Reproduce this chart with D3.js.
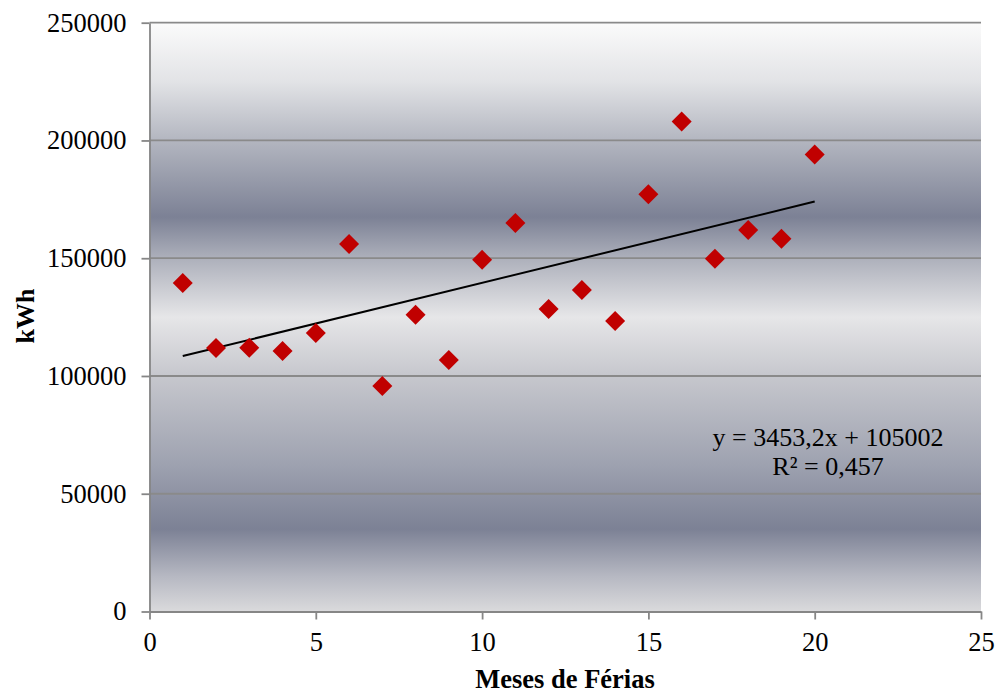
<!DOCTYPE html>
<html>
<head>
<meta charset="utf-8">
<script src="https://cdn.jsdelivr.net/npm/d3@7"></script>
<style>
  html, body { margin: 0; padding: 0; background: #ffffff; }
  svg { display: block; }
  text { font-family: "Liberation Serif", "Times New Roman", serif; fill: #000; }
</style>
</head>
<body>
<svg id="chart" width="1005" height="697"></svg>
<script>
// Months of vacation vs. energy consumption
const months = [1, 2, 3, 4, 5, 6, 7, 8, 9, 10, 11, 12, 13, 14, 15, 16, 17, 18, 19, 20];
const kwh = [139500, 111900, 112000, 110600, 118200, 156000, 95700, 126000, 106800, 149300,
             165000, 128400, 136500, 123300, 177200, 208000, 149800, 162000, 158300, 194000];

// Linear trend as stated on the chart
const trendSlope = 3453.2;
const trendIntercept = 105002;
const trendLabel = "y = 3453,2x + 105002";
const r2Label = "R² = 0,457";

const xTicks = [0, 5, 10, 15, 20, 25];
const yTicks = [0, 50000, 100000, 150000, 200000, 250000];

const xTitle = "Meses de Férias";
const yTitle = "kWh";

const svg = d3.select("#chart");
const plot = { left: 149.5, right: 981, top: 22.7, bottom: 611.5 };

const x = d3.scaleLinear().domain([0, 25]).range([plot.left, plot.right]);
const y = d3.scaleLinear().domain([0, 250000]).range([plot.bottom, plot.top]);

// Banded metallic background of the plot area
const defs = svg.append("defs");
const grad = defs.append("linearGradient")
  .attr("id", "plotBg").attr("x1", 0).attr("y1", 0).attr("x2", 0).attr("y2", 1);
[
  [0.00, "#fbfbfb"],
  [0.10, "#e2e3e6"],
  [0.20, "#b3b6c0"],
  [0.33, "#7c8195"],
  [0.40, "#adb0bb"],
  [0.50, "#e6e6e8"],
  [0.60, "#c6c7cd"],
  [0.75, "#9ea2b0"],
  [0.86, "#7c8195"],
  [0.94, "#b6b8c2"],
  [1.00, "#dadadc"]
].forEach(([o, c]) => grad.append("stop").attr("offset", o).attr("stop-color", c));

svg.append("rect")
  .attr("x", plot.left).attr("y", plot.top)
  .attr("width", plot.right - plot.left).attr("height", plot.bottom - plot.top)
  .attr("fill", "url(#plotBg)");

// Horizontal gridlines
svg.append("g")
  .selectAll("line")
  .data(yTicks.filter(d => d > 0))
  .join("line")
  .attr("x1", plot.left).attr("x2", plot.right)
  .attr("y1", d => y(d)).attr("y2", d => y(d))
  .attr("stroke", "#8a8a8a").attr("stroke-width", 1.8);

// Axes
const yAxis = svg.append("g")
  .attr("transform", `translate(${plot.left},0)`)
  .call(d3.axisLeft(y).tickValues(yTicks).tickFormat(d3.format("d")).tickSizeOuter(0).tickSizeInner(8).tickPadding(15));
const xAxis = svg.append("g")
  .attr("transform", `translate(0,${plot.bottom})`)
  .call(d3.axisBottom(x).tickValues(xTicks).tickFormat(d3.format("d")).tickSizeOuter(0).tickSizeInner(8).tickPadding(13));

[yAxis, xAxis].forEach(g => {
  g.select(".domain").attr("stroke", "#868686").attr("stroke-width", 1.8);
  g.selectAll(".tick line").attr("stroke", "#868686").attr("stroke-width", 1.8);
  g.selectAll(".tick text")
    .style("font-family", '"Liberation Serif", "Times New Roman", serif')
    .style("font-size", "26.5px").attr("fill", "#000");
});

// Trendline across the data range
const xExtent = d3.extent(months);
svg.append("line")
  .attr("x1", x(xExtent[0])).attr("y1", y(trendSlope * xExtent[0] + trendIntercept))
  .attr("x2", x(xExtent[1])).attr("y2", y(trendSlope * xExtent[1] + trendIntercept))
  .attr("stroke", "#000").attr("stroke-width", 2);

// Diamond markers
const diamond = d3.symbol().type(d3.symbolSquare).size(200);
svg.append("g")
  .selectAll("path")
  .data(months.map((m, i) => [m, kwh[i]]))
  .join("path")
  .attr("d", diamond)
  .attr("transform", d => `translate(${x(d[0])},${y(d[1])}) rotate(45)`)
  .attr("fill", "#c00000");

// Trend equation, two lines
svg.append("text")
  .attr("x", 828).attr("y", 446)
  .attr("text-anchor", "middle")
  .style("font-size", "26px")
  .text(trendLabel);
svg.append("text")
  .attr("x", 828).attr("y", 474.5)
  .attr("text-anchor", "middle")
  .style("font-size", "26px")
  .text(r2Label);

// Axis titles
svg.append("text")
  .attr("x", 565).attr("y", 688)
  .attr("text-anchor", "middle")
  .style("font-size", "26.5px").style("font-weight", "bold")
  .text(xTitle);

svg.append("text")
  .attr("transform", "translate(34,316) rotate(-90)")
  .attr("text-anchor", "middle")
  .style("font-size", "26px").style("font-weight", "bold")
  .text(yTitle);
</script>
</body>
</html>
